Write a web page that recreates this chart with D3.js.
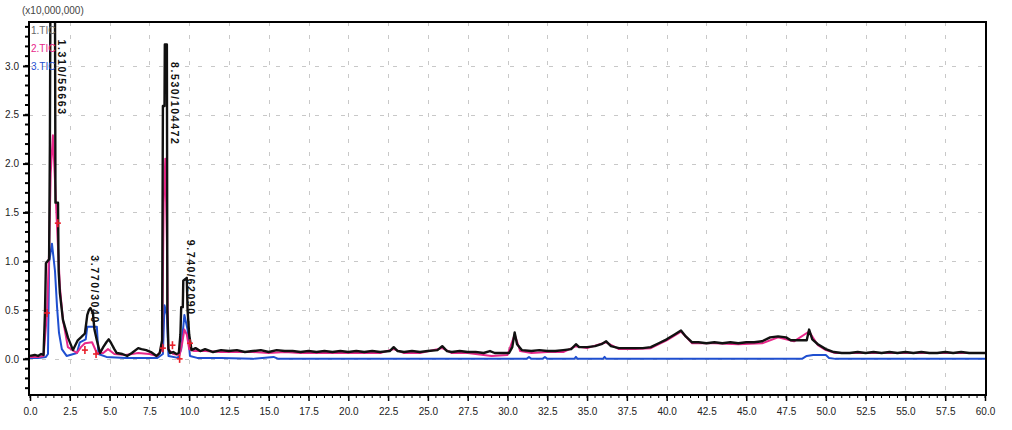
<!DOCTYPE html>
<html>
<head>
<meta charset="utf-8">
<script src="https://cdn.jsdelivr.net/npm/d3@7"></script>
<style>
  html, body { margin: 0; padding: 0; background: #fff; }
  svg { display: block; font-family: "Liberation Sans", Arial, sans-serif; }
</style>
</head>
<body>
<svg id="chart" width="1012" height="430"></svg>
<script>
// Total ion chromatograms, intensity in units of 10,000,000 counts, time in minutes.
const seriesNames = ["1.TIC", "2.TIC", "3.TIC"];
const seriesColors = ["#111111", "#e8288a", "#1f4fd0"];

const xTicks = d3.range(0, 60.01, 2.5);
const yTicks = [0.0, 0.5, 1.0, 1.5, 2.0, 2.5, 3.0];

// 1.TIC
const tic1 = [
  [0.0,0.03],[0.3,0.04],[0.5,0.03],[0.7,0.05],[0.85,0.04],[0.94,0.47],[1.0,0.98],[1.2,1.02],
  [1.25,2.2],[1.28,3.6],[1.57,3.6],[1.6,1.6],[1.76,1.6],[1.8,0.9],[1.88,0.67],[2.07,0.4],
  [2.38,0.22],[2.7,0.09],[3.0,0.19],[3.2,0.22],[3.45,0.26],[3.6,0.45],[3.7,0.5],[3.8,0.52],
  [3.95,0.47],[4.05,0.3],[4.2,0.19],[4.4,0.06],[4.6,0.12],[4.8,0.17],[4.95,0.2],[5.1,0.16],
  [5.3,0.1],[5.45,0.06],[5.8,0.05],[6.1,0.03],[6.4,0.06],[6.8,0.11],[7.0,0.1],[7.3,0.09],
  [7.6,0.07],[7.95,0.03],[8.15,0.06],[8.3,0.19],[8.35,2.59],[8.45,2.59],[8.47,3.22],[8.6,3.22],
  [8.63,0.5],[8.7,0.1],[8.8,0.06],[9.0,0.07],[9.2,0.05],[9.35,0.06],[9.45,0.25],[9.5,0.53],
  [9.6,0.53],[9.63,0.8],[9.85,0.83],[9.9,0.5],[10.0,0.25],[10.15,0.09],[10.4,0.11],[10.7,0.08],
  [11.0,0.1],[11.5,0.07],[12.0,0.09],[12.5,0.08],[13.0,0.09],[13.5,0.07],[14.0,0.08],[14.5,0.09],
  [15.0,0.07],[15.5,0.09],[16.0,0.08],[16.5,0.08],[17.0,0.07],[17.5,0.08],[18.0,0.07],[18.5,0.08],
  [19.0,0.07],[19.5,0.08],[20.0,0.07],[20.5,0.08],[21.0,0.07],[21.5,0.08],[22.0,0.07],[22.6,0.08],
  [22.85,0.12],[23.1,0.08],[23.5,0.07],[24.0,0.08],[24.5,0.07],[25.0,0.08],[25.6,0.09],[25.9,0.13],
  [26.2,0.08],[26.5,0.07],[27.0,0.08],[27.5,0.07],[28.0,0.07],[28.5,0.06],[28.9,0.08],[29.2,0.06],
  [29.6,0.06],[30.1,0.06],[30.3,0.12],[30.45,0.27],[30.6,0.15],[30.9,0.09],[31.5,0.08],[32.0,0.09],
  [32.5,0.08],[33.0,0.08],[33.5,0.09],[34.0,0.1],[34.3,0.15],[34.5,0.12],[35.0,0.12],[35.5,0.13],
  [35.9,0.15],[36.2,0.18],[36.5,0.13],[37.0,0.11],[37.5,0.11],[38.0,0.11],[38.5,0.11],[39.0,0.12],
  [39.5,0.16],[40.0,0.2],[40.5,0.25],[40.9,0.29],[41.2,0.23],[41.6,0.17],[42.0,0.17],[42.5,0.16],
  [43.0,0.17],[43.5,0.16],[44.0,0.17],[44.5,0.16],[45.0,0.17],[45.5,0.17],[46.0,0.18],[46.5,0.22],
  [47.0,0.23],[47.5,0.22],[47.8,0.19],[48.3,0.19],[48.8,0.19],[48.95,0.3],[49.15,0.2],[49.5,0.15],
  [50.0,0.1],[50.5,0.07],[51.0,0.06],[51.5,0.06],[52.0,0.07],[52.5,0.06],[53.0,0.07],[53.5,0.06],
  [54.0,0.07],[54.5,0.06],[55.0,0.07],[55.5,0.06],[56.0,0.07],[56.5,0.06],[57.0,0.06],[57.5,0.07],
  [58.0,0.06],[58.5,0.07],[59.0,0.06],[59.5,0.06],[60.0,0.06]
];

// 2.TIC
const tic2 = [
  [0.0,0.02],[0.5,0.02],[0.85,0.03],[1.07,0.47],[1.2,1.1],[1.3,1.9],[1.44,2.29],[1.55,1.9],
  [1.69,1.39],[1.76,1.14],[1.88,0.73],[2.07,0.4],[2.38,0.12],[2.95,0.06],[3.2,0.12],[3.45,0.16],
  [3.9,0.17],[4.2,0.06],[4.6,0.06],[4.9,0.1],[5.3,0.05],[6.0,0.04],[6.8,0.06],[7.5,0.05],
  [8.0,0.03],[8.3,0.1],[8.4,1.6],[8.5,2.05],[8.6,1.2],[8.68,0.1],[9.0,0.05],[9.4,0.04],
  [9.55,0.15],[9.7,0.3],[9.85,0.25],[10.0,0.1],[10.3,0.08],[11.0,0.08],[12.0,0.07],[13.0,0.07],
  [14.0,0.07],[15.0,0.06],[16.0,0.07],[17.0,0.06],[18.0,0.06],[19.0,0.06],[20.0,0.06],[21.0,0.06],
  [22.0,0.06],[22.85,0.1],[23.5,0.06],[24.5,0.06],[25.9,0.11],[26.5,0.06],[27.5,0.06],[28.5,0.04],
  [29.0,0.03],[30.0,0.04],[30.45,0.25],[30.8,0.08],[31.5,0.06],[32.5,0.07],[33.5,0.07],[34.3,0.13],
  [35.0,0.11],[36.2,0.17],[37.0,0.1],[38.0,0.1],[39.0,0.11],[40.0,0.19],[40.9,0.28],[41.6,0.16],
  [43.0,0.16],[44.5,0.15],[46.0,0.16],[47.0,0.22],[48.0,0.18],[48.95,0.28],[49.5,0.14],[50.0,0.09],
  [50.6,0.06],[52.0,0.06],[54.0,0.06],[56.0,0.06],[58.0,0.06],[60.0,0.06]
];

// 3.TIC
const tic3 = [
  [0.0,0.01],[0.5,0.01],[1.0,0.02],[1.13,0.05],[1.2,0.99],[1.38,1.18],[1.57,0.9],[1.7,0.53],
  [1.82,0.27],[2.0,0.1],[2.3,0.03],[2.95,0.06],[3.13,0.17],[3.5,0.2],[3.6,0.33],[4.2,0.33],
  [4.3,0.05],[4.8,0.02],[6.0,0.01],[8.0,0.01],[8.35,0.05],[8.45,0.55],[8.6,0.45],[8.7,0.03],
  [9.3,0.01],[9.5,0.1],[9.7,0.45],[9.9,0.3],[10.05,0.03],[10.5,0.01],[12.0,0.01],[14.0,0.0],
  [15.3,0.02],[15.6,0.0],[18.0,0.0],[22.0,0.0],[26.0,0.0],[30.0,0.0],[31.2,0.0],[31.35,0.02],
  [31.5,0.0],[32.2,0.0],[32.35,0.02],[32.5,0.0],[34.2,0.0],[34.3,0.02],[34.4,0.0],[36.0,0.0],
  [36.1,0.02],[36.2,0.0],[40.0,0.0],[45.0,0.0],[48.5,0.0],[48.8,0.03],[49.2,0.04],[50.0,0.04],
  [50.2,0.01],[50.6,0.0],[55.0,0.0],[60.0,0.0]
];

// Peak integration start/end marks on 2.TIC
const peakMarks = [
  [1.07,0.47],[1.75,1.39],[3.45,0.09],[4.15,0.05],[8.35,0.11],[8.95,0.14],[9.4,0.0],[10.05,0.16]
];

// Peak annotations: retention time / area
const peakLabels = [
  { t: 1.51, v: 3.27, text: "1.310/56663" },
  { t: 3.57, v: 1.06, text: "3.770/3040" },
  { t: 8.62, v: 3.04, text: "8.530/104472" },
  { t: 9.61, v: 1.22, text: "9.740/62090" }
];

(function drawChart() {
  const svg = d3.select("#chart");
  const W = 1012, H = 430;
  const pl = 29, pr = 986, pt = 22, pb = 395;

  svg.append("rect").attr("width", W).attr("height", H).attr("fill", "#fff");

  const x = d3.scaleLinear().domain([0, 60]).range([30, 985]);
  const y = d3.scaleLinear().domain([-0.37, 3.45]).range([pb, pt]);

  // grid
  const grid = svg.append("g").attr("stroke", "#c8c8c8").attr("stroke-width", 1)
    .attr("stroke-dasharray", "4,9");
  grid.selectAll("line.v").data(xTicks.slice(1, -1)).join("line").attr("class", "v")
    .attr("x1", d => Math.round(x(d)) + 0.5).attr("x2", d => Math.round(x(d)) + 0.5)
    .attr("y1", pt).attr("y2", pb);
  grid.selectAll("line.h").data(yTicks).join("line").attr("class", "h")
    .attr("x1", pl).attr("x2", pr)
    .attr("y1", d => Math.round(y(d)) + 0.5).attr("y2", d => Math.round(y(d)) + 0.5);

  // data
  svg.append("clipPath").attr("id", "clip").append("rect")
    .attr("x", pl).attr("y", pt).attr("width", pr - pl).attr("height", pb - pt);
  const plot = svg.append("g").attr("clip-path", "url(#clip)");

  const line = d3.line().x(d => x(d[0])).y(d => y(d[1]));
  const allSeries = [tic1, tic2, tic3];
  // draw in reverse so 1.TIC ends up on top
  [2, 1, 0].forEach(i => {
    plot.append("path").datum(allSeries[i])
      .attr("fill", "none").attr("stroke", seriesColors[i])
      .attr("stroke-width", i === 0 ? 2.4 : 2).attr("stroke-linejoin", "round")
      .attr("d", line);
  });

  // red integration marks
  const marks = plot.append("g").attr("stroke", "#e8202a").attr("stroke-width", 1.6);
  peakMarks.forEach(([t, v]) => {
    marks.append("line").attr("x1", x(t) - 3).attr("x2", x(t) + 3).attr("y1", y(v)).attr("y2", y(v));
    marks.append("line").attr("x1", x(t)).attr("x2", x(t)).attr("y1", y(v) - 4).attr("y2", y(v) + 4);
  });

  // peak labels (vertical)
  svg.append("g").selectAll("text").data(peakLabels).join("text")
    .attr("transform", d => `translate(${x(d.t) + 3},${y(d.v)}) rotate(90)`)
    .attr("font-size", 10.5).attr("font-weight", "bold").attr("fill", "#111")
    .attr("letter-spacing", 1.6).attr("dy", "-0.1em")
    .text(d => d.text);

  // legend
  svg.append("g").selectAll("text").data(seriesNames).join("text")
    .attr("x", 31).attr("y", (d, i) => 34 + i * 18)
    .attr("font-size", 10).attr("fill", (d, i) => i === 0 ? "#666" : seriesColors[i])
    .text(d => d);

  // axes
  const xAxis = d3.axisBottom(x).tickValues(xTicks).tickSize(6).tickFormat(d3.format(".1f"));
  const gx = svg.append("g").attr("transform", `translate(0,${pb})`).call(xAxis);
  gx.select(".domain").remove();
  gx.selectAll(".tick line").attr("stroke", "#000").attr("stroke-width", 1.5);
  gx.selectAll(".tick text").attr("font-size", 10).attr("fill", "#222").attr("dy", "1.05em");
  svg.append("g").attr("stroke", "#000").attr("stroke-width", 1)
    .selectAll("line").data(d3.range(0, 60.01, 0.5)).join("line")
    .attr("x1", d => x(d)).attr("x2", d => x(d)).attr("y1", pb).attr("y2", pb + 3);

  const yAxis = d3.axisLeft(y).tickValues(yTicks).tickSize(6).tickFormat(d3.format(".1f"));
  const gy = svg.append("g").attr("transform", `translate(${pl},0)`).call(yAxis);
  gy.select(".domain").remove();
  gy.selectAll(".tick line").attr("stroke", "#000").attr("stroke-width", 2);
  gy.selectAll(".tick text").attr("font-size", 10).attr("fill", "#222").attr("x", -10);
  svg.append("g").attr("stroke", "#000").attr("stroke-width", 2)
    .selectAll("line").data(d3.range(-0.3, 3.45, 0.1)).join("line")
    .attr("x1", pl - 4).attr("x2", pl).attr("y1", d => y(d)).attr("y2", d => y(d));

  // frame
  svg.append("rect").attr("x", pl).attr("y", pt).attr("width", pr - pl).attr("height", pb - pt)
    .attr("fill", "none").attr("stroke", "#000").attr("stroke-width", 2);

  // scale multiplier
  svg.append("text").attr("x", 22).attr("y", 14).attr("font-size", 10).attr("fill", "#444")
    .text("(x10,000,000)");
})();
</script>
</body>
</html>
